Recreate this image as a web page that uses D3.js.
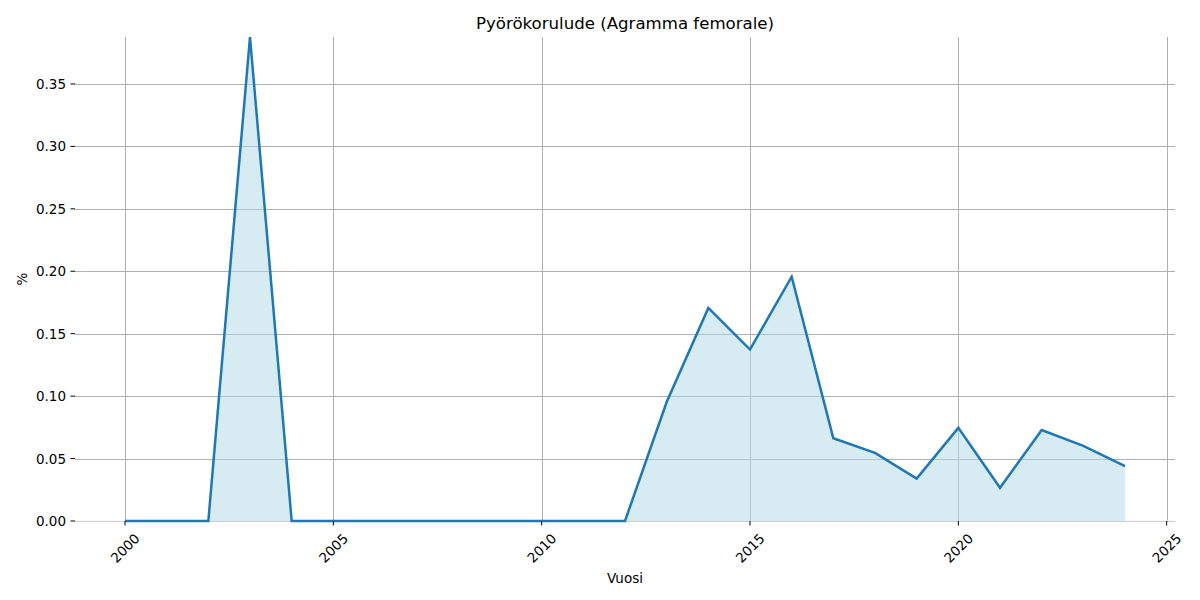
<!DOCTYPE html>
<meta charset="utf-8">
<style>
body{ margin:0; background:white; }
text{ font-family: "DejaVu Sans", sans-serif; }
</style>
<body>
<svg class="chart"></svg>
<script src="https://d3js.org/d3.v7.min.js"></script>
<script>
// data
var years = [2000, 2001, 2002, 2003, 2004, 2005, 2006, 2007, 2008, 2009, 2010, 2011, 2012,
             2013, 2014, 2015, 2016, 2017, 2018, 2019, 2020, 2021, 2022, 2023, 2024];
var values = [0, 0, 0, 0.3876, 0, 0, 0, 0, 0, 0, 0, 0, 0,
              0.0953, 0.1706, 0.1373, 0.1956, 0.0663, 0.0545, 0.0340, 0.0746, 0.0266, 0.0729, 0.0602, 0.0440];
var xTicks = [2000, 2005, 2010, 2015, 2020, 2025];
var yTicks = [0, 0.05, 0.10, 0.15, 0.20, 0.25, 0.30, 0.35];

var title = "Pyörökorulude (Agramma femorale)";
var xLabel = "Vuosi";
var yLabel = "%";

var data = years.map(function (y, i) { return {year: y, value: values[i]}; });

// plot box (window.top is read-only, so own names)
var W = 1200, H = 600;
var pLeft = 75, pRight = 1175, pTop = 37, pBottom = 521;

var svg = d3.select('svg').attr('width', W).attr('height', H);

// matplotlib-like 5% margins on x, y clipped at the max
var span = d3.max(years) - d3.min(years);
var x = d3.scaleLinear()
  .domain([d3.min(years) - span * 0.05, d3.max(years) + span * 0.05])
  .range([pLeft, pRight]);
var y = d3.scaleLinear()
  .domain([0, d3.max(values)])
  .range([pBottom, pTop]);

// grid
svg.append('g').selectAll('line')
  .data(xTicks)
  .enter().append('line')
  .attr('x1', function (d) { return Math.round(x(d)) + 0.5; })
  .attr('x2', function (d) { return Math.round(x(d)) + 0.5; })
  .attr('y1', pTop).attr('y2', pBottom)
  .attr('stroke', '#b0b0b0').attr('stroke-width', 1);

svg.append('g').selectAll('line')
  .data(yTicks)
  .enter().append('line')
  .attr('x1', pLeft).attr('x2', pRight)
  .attr('y1', function (d) { return Math.round(y(d)) + 0.5; })
  .attr('y2', function (d) { return Math.round(y(d)) + 0.5; })
  .attr('stroke', '#b0b0b0').attr('stroke-width', 1);

// faint bottom line
svg.append('line')
  .attr('x1', pLeft).attr('x2', pRight)
  .attr('y1', pBottom).attr('y2', pBottom)
  .attr('stroke', '#f2f2f2').attr('stroke-width', 1);

// area + line
var area = d3.area()
  .x(function (d) { return x(d.year); })
  .y0(y(0))
  .y1(function (d) { return y(d.value); });
svg.append('path')
  .datum(data)
  .attr('d', area)
  .attr('fill', 'lightblue')
  .attr('fill-opacity', 0.5);

var line = d3.line()
  .x(function (d) { return x(d.year); })
  .y(function (d) { return y(d.value); });
svg.append('path')
  .datum(data)
  .attr('d', line)
  .attr('fill', 'none')
  .attr('stroke', '#1f77b4')
  .attr('stroke-width', 2.5)
  .attr('stroke-linejoin', 'miter');

// x axis ticks + rotated labels
var gx = svg.append('g');
gx.selectAll('line')
  .data(xTicks)
  .enter().append('line')
  .attr('x1', function (d) { return x(d); })
  .attr('x2', function (d) { return x(d); })
  .attr('y1', pBottom).attr('y2', pBottom + 4.5)
  .attr('stroke', 'black').attr('stroke-width', 1);
gx.selectAll('text')
  .data(xTicks)
  .enter().append('text')
  .attr('transform', function (d) { return 'translate(' + x(d) + ',' + 548 + ') rotate(-45)'; })
  .attr('text-anchor', 'middle')
  .attr('dominant-baseline', 'central')
  .attr('font-size', '13.5px')
  .attr('fill', 'black')
  .text(function (d) { return d; });

// y axis ticks + labels
var gy = svg.append('g');
gy.selectAll('line')
  .data(yTicks)
  .enter().append('line')
  .attr('x1', pLeft - 4.5).attr('x2', pLeft)
  .attr('y1', function (d) { return y(d); })
  .attr('y2', function (d) { return y(d); })
  .attr('stroke', 'black').attr('stroke-width', 1);
gy.selectAll('text')
  .data(yTicks)
  .enter().append('text')
  .attr('x', pLeft - 9)
  .attr('y', function (d) { return y(d); })
  .attr('text-anchor', 'end')
  .attr('dominant-baseline', 'central')
  .attr('font-size', '13.5px')
  .attr('fill', 'black')
  .text(function (d) { return d3.format('.2f')(d); });

// labels
svg.append('text')
  .attr('x', (pLeft + pRight) / 2).attr('y', 23)
  .attr('text-anchor', 'middle').attr('dominant-baseline', 'central')
  .attr('font-size', '16.6px')
  .text(title);

svg.append('text')
  .attr('x', (pLeft + pRight) / 2).attr('y', 578)
  .attr('text-anchor', 'middle').attr('dominant-baseline', 'central')
  .attr('font-size', '13.5px')
  .text(xLabel);

svg.append('text')
  .attr('transform', 'translate(22,' + ((pTop + pBottom) / 2) + ') rotate(-90)')
  .attr('text-anchor', 'middle').attr('dominant-baseline', 'central')
  .attr('font-size', '13.5px')
  .text(yLabel);
</script>
</body>
